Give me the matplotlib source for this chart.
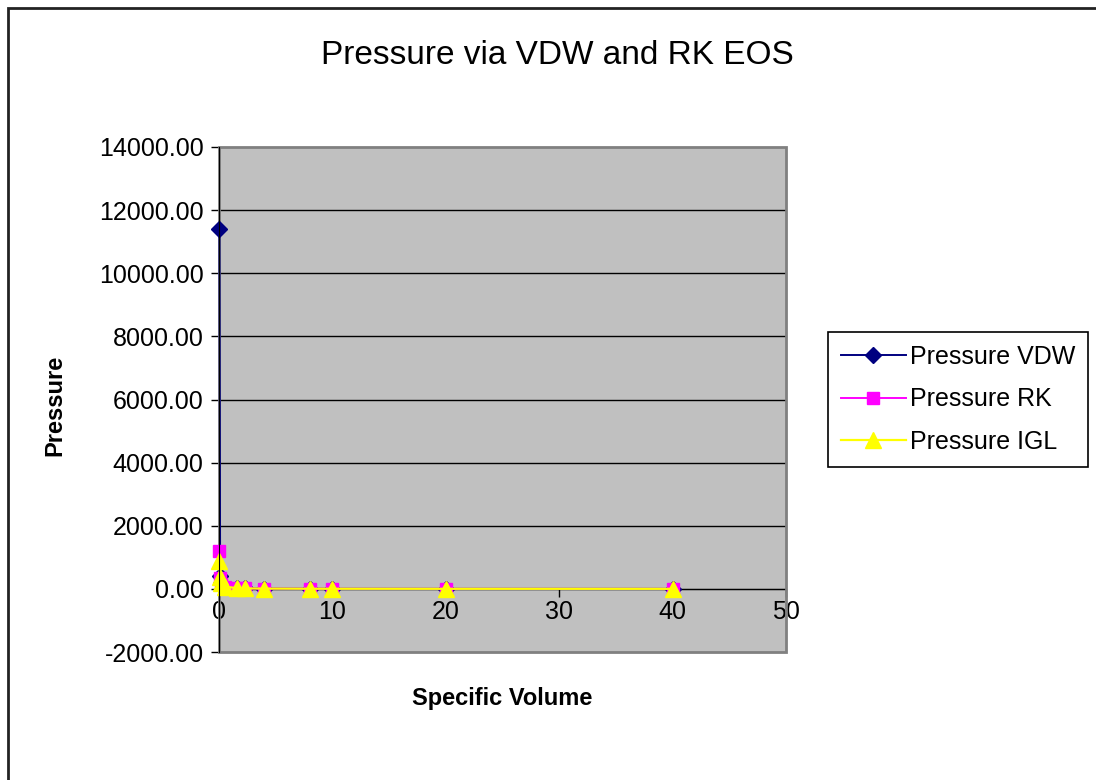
import numpy as np
from matplotlib import pyplot as plt
from matplotlib.patches import Rectangle

# specific volume and the three pressure series
volume = [0.04, 0.1, 0.2, 0.5, 1.6, 2.3, 4, 8, 10, 20, 40]
p_vdw = [11400, 420, 190, 75, 23, 16, 9, 4.5, 3.6, 1.8, 0.9]
p_rk = [1200, 330, 170, 70, 22, 16, 9, 4.5, 3.6, 1.8, 0.9]
p_igl = [880, 380, 180, 72, 22, 16, 9, 4.5, 3.6, 1.8, 0.9]

xticks = [0, 10, 20, 30, 40, 50]
yticks = np.arange(-2000, 14001, 2000)

plt.rcParams['font.family'] = ['Liberation Sans', 'DejaVu Sans']

W, H = 1096, 780
fig = plt.figure(figsize=(W / 100, H / 100), dpi=100)
ax = fig.add_axes([219 / W, 1 - 652 / H, (786 - 219) / W, (652 - 147) / H])
ax.set_facecolor('#C0C0C0')

# outer chart border
fig.patches.append(Rectangle((8 / W, -0.1), 1.2, 1 - 8 / H + 0.1, transform=fig.transFigure,
                             fill=False, edgecolor='#222222', linewidth=2))

ax.set_xlim(0, 50)
ax.set_ylim(-2000, 14000)
for y in yticks[1:-1]:
    ax.axhline(y, color='black', linewidth=1, zorder=1)

ax.plot(volume, p_vdw, color='#000080', marker='D', markersize=8, linewidth=1.4,
        label='Pressure VDW', zorder=3, clip_on=False)
ax.plot(volume, p_rk, color='#FF00FF', marker='s', markersize=9, linewidth=1.4,
        label='Pressure RK', zorder=4, clip_on=False)
ax.plot(volume, p_igl, color='#FFFF00', marker='^', markersize=11, linewidth=1.6,
        label='Pressure IGL', zorder=5, clip_on=False)

for s in ['top', 'right']:
    ax.spines[s].set_visible(False)
ax.spines['left'].set_position(('data', 0))
ax.spines['bottom'].set_position(('data', 0))
ax.spines['left'].set_zorder(6)
ax.spines['bottom'].set_zorder(2)
ax.add_patch(Rectangle((0, 0), 1, 1, transform=ax.transAxes, fill=False,
                       edgecolor='#808080', linewidth=2, zorder=2.5, clip_on=False))

ax.set_xticks(xticks)
ax.set_yticks(yticks)
ax.set_yticklabels([f'{v:.2f}' for v in yticks])
ax.tick_params(axis='both', direction='out', length=6, width=1, labelsize=18, colors='black')
ax.tick_params(axis='x', pad=2)
ax.tick_params(axis='y', pad=5)

fig.text(557 / W, 1 - 55 / H, 'Pressure via VDW and RK EOS', ha='center', va='center', fontsize=24)
fig.text(502 / W, 1 - 698 / H, 'Specific Volume', ha='center', va='center',
         fontsize=17, fontweight='bold')
fig.text(55 / W, 1 - 405 / H, 'Pressure', ha='center', va='center', rotation=90,
         fontsize=17, fontweight='bold')

leg = fig.legend(loc='upper left', bbox_to_anchor=(828 / W, 1 - 332 / H), fontsize=18,
                 frameon=True, fancybox=False, edgecolor='black', framealpha=1,
                 handlelength=2.6, handletextpad=0.2, borderpad=0.5, labelspacing=0.75,
                 borderaxespad=0)
leg.get_frame().set_linewidth(1.2)

fig.savefig('out.png', dpi=100)
